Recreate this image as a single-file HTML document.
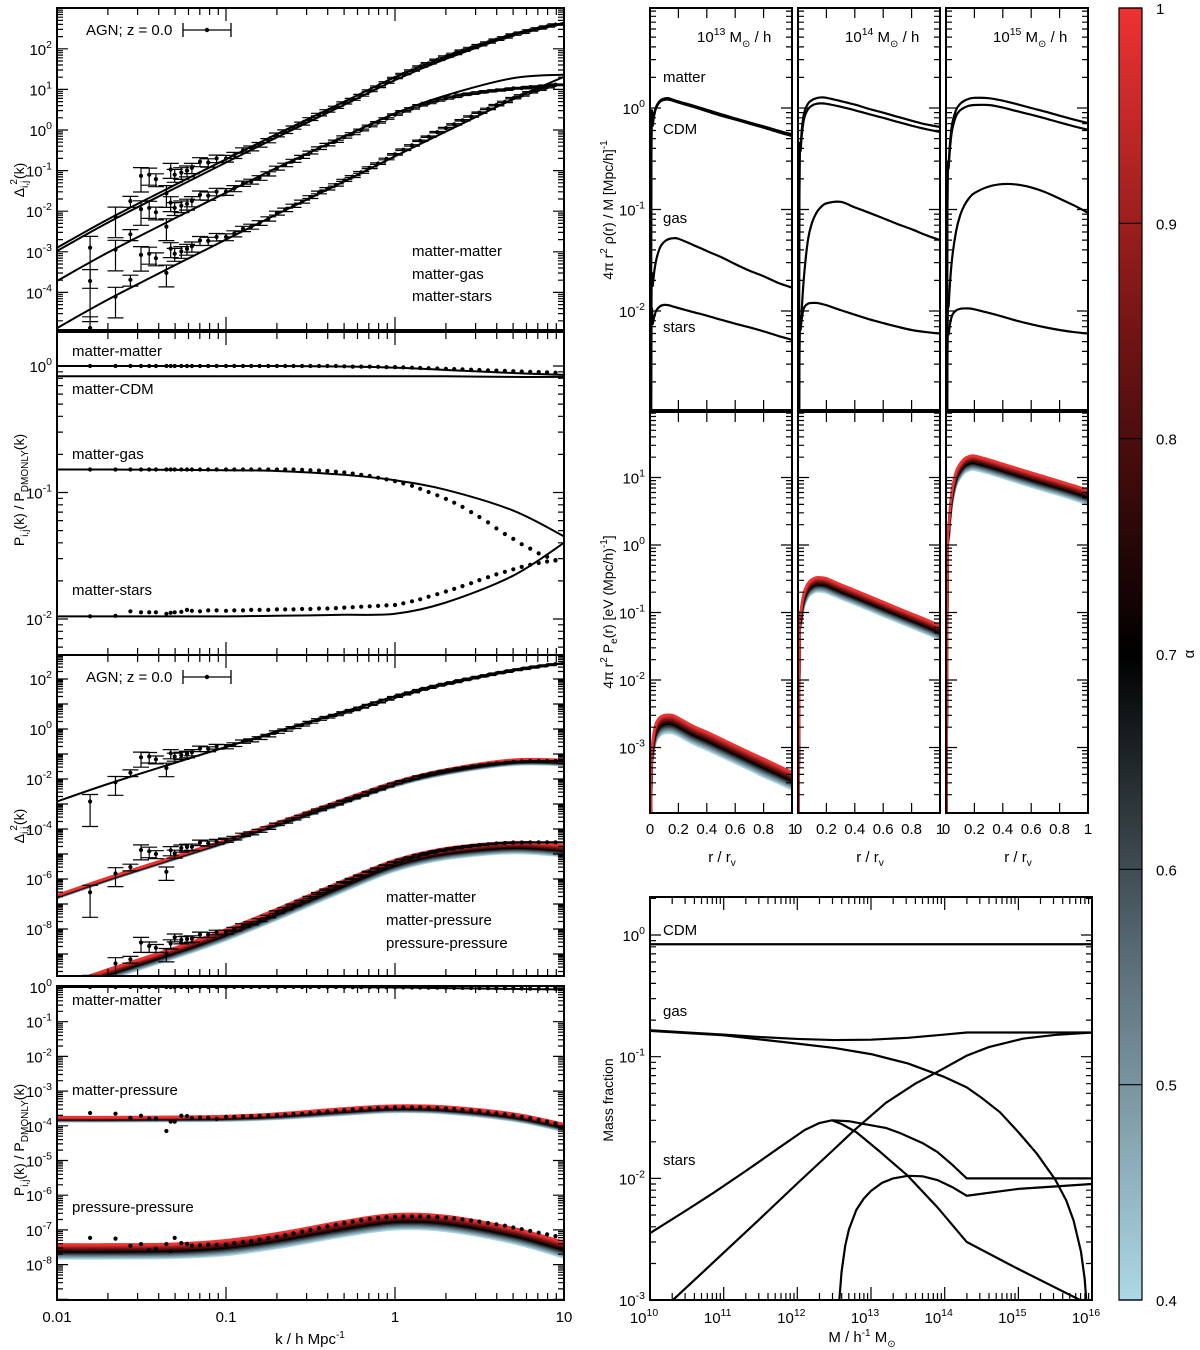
<!DOCTYPE html>
<html><head><meta charset="utf-8"><title>Halo model power spectra</title>
<style>html,body{margin:0;padding:0;background:#fff}svg{display:block}text{font-family:"Liberation Sans","DejaVu Sans",sans-serif;fill:#000}</style>
</head><body>
<svg id="chart" xmlns="http://www.w3.org/2000/svg" width="1200" height="1350" viewBox="0 0 1200 1350"><defs id="defs"></defs></svg>
<script>
// ---------- DATA ----------
const kGrid=[0.01,0.02,0.05,0.1,0.2,0.5,1,2,5,10];
const dmoLine=[-2.9,-2.2,-1.35,-0.72,-0.1,0.7,1.31,1.83,2.42,2.71]; // log10 Delta^2 DMONLY
const ratioMMLine=[1,1,1,1,1,0.99,0.97,0.93,0.88,0.85];
const ratioCDMLine=[0.83,0.83,0.83,0.83,0.83,0.83,0.83,0.83,0.82,0.82];
const ratioGasLine=[0.152,0.152,0.151,0.15,0.148,0.138,0.125,0.105,0.072,0.045];
const ratioStarsLine=[0.0105,0.0105,0.0105,0.0105,0.0106,0.0108,0.011,0.0135,0.022,0.04];
const ratioMPTop=[-3.75,-3.75,-3.74,-3.72,-3.65,-3.5,-3.42,-3.45,-3.65,-3.95];
const ratioMPBot=[-3.87,-3.87,-3.86,-3.85,-3.8,-3.68,-3.6,-3.64,-3.85,-4.15];
const ratioPPTop=[-7.42,-7.42,-7.4,-7.3,-7.1,-6.75,-6.55,-6.6,-6.95,-7.35];
const ratioPPBot=[-7.82,-7.82,-7.8,-7.72,-7.52,-7.18,-6.98,-7.03,-7.38,-7.8];
const alphas=[0.4,0.45,0.5,0.55,0.6,0.65,0.7,0.75,0.8,0.85,0.9,0.95,1.0];

const kPts=[0.0157,0.0222,0.0272,0.0314,0.0351,0.0385,0.0444,0.0471,0.0497,0.0544,0.0588,0.0628,0.0702,0.0785,0.088,0.1,0.112,0.126,0.141,0.158,0.178,0.2,0.224,0.251,0.282,0.316,0.355,0.398,0.447,0.501,0.562,0.631,0.708,0.794,0.891,1.0,1.12,1.26,1.41,1.58,1.78,2.0,2.24,2.51,2.82,3.16,3.55,3.98,4.47,5.01,5.62,6.31,7.08,7.94,8.91];
const dmoPts=[-2.9,-2.13,-1.75,-1.13,-1.1,-1.21,-1.56,-0.97,-1.1,-1.05,-1.0,-0.93,-0.78,-0.8,-0.7,-0.7,-0.62,-0.5,-0.45,-0.36,-0.26,-0.12,-0.04,0.06,0.16,0.27,0.38,0.47,0.56,0.67,0.76,0.86,0.97,1.07,1.18,1.29,1.39,1.48,1.58,1.66,1.75,1.83,1.9,1.98,2.05,2.12,2.19,2.26,2.32,2.39,2.44,2.5,2.55,2.6,2.65];
const ratioMMPts=[1,1,1,1,1,1,1,1,1,1,1,1,1,1,1,1,1,1,1,1,1,1,1,1,1,1,1,1,1,0.995,0.99,0.99,0.99,0.985,0.98,0.98,0.975,0.97,0.965,0.96,0.955,0.95,0.945,0.94,0.935,0.93,0.925,0.92,0.915,0.91,0.905,0.9,0.895,0.89,0.885];
const ratioGasPts=[0.152,0.152,0.152,0.152,0.152,0.152,0.152,0.152,0.152,0.152,0.152,0.152,0.152,0.152,0.152,0.152,0.152,0.152,0.152,0.152,0.152,0.152,0.152,0.152,0.151,0.150,0.149,0.148,0.146,0.144,0.141,0.138,0.135,0.131,0.127,0.123,0.118,0.113,0.107,0.101,0.095,0.089,0.083,0.077,0.07,0.064,0.058,0.052,0.047,0.043,0.039,0.036,0.033,0.031,0.029];
const ratioStarsPts=[0.0105,0.0106,0.0115,0.0113,0.0113,0.0113,0.0110,0.0112,0.0113,0.0114,0.0118,0.0116,0.0115,0.0117,0.0117,0.0116,0.0117,0.0117,0.0118,0.0118,0.0118,0.0119,0.0119,0.0119,0.012,0.012,0.0121,0.0121,0.0122,0.0123,0.0124,0.0125,0.0126,0.0127,0.0128,0.0129,0.0133,0.0138,0.0143,0.015,0.0157,0.0165,0.0173,0.0182,0.0192,0.0203,0.0214,0.0225,0.0236,0.0247,0.0258,0.0268,0.0277,0.0285,0.0292];
const ratioMPPts=[-3.63,-3.65,-3.77,-3.71,-3.79,-3.79,-4.15,-3.88,-3.88,-3.71,-3.72,-3.78,-3.76,-3.77,-3.8,-3.74,-3.74,-3.73,-3.72,-3.71,-3.70,-3.69,-3.68,-3.66,-3.65,-3.63,-3.61,-3.59,-3.57,-3.55,-3.53,-3.52,-3.5,-3.49,-3.48,-3.47,-3.47,-3.47,-3.47,-3.48,-3.49,-3.5,-3.52,-3.54,-3.56,-3.58,-3.61,-3.64,-3.67,-3.7,-3.74,-3.78,-3.83,-3.88,-3.93];
const ratioPPPts=[-7.23,-7.25,-7.46,-7.41,-7.58,-7.54,-7.41,-7.61,-7.23,-7.38,-7.4,-7.45,-7.44,-7.42,-7.43,-7.42,-7.38,-7.35,-7.32,-7.28,-7.24,-7.2,-7.15,-7.1,-7.05,-7.0,-6.95,-6.9,-6.85,-6.8,-6.76,-6.72,-6.68,-6.65,-6.63,-6.62,-6.61,-6.61,-6.61,-6.62,-6.63,-6.65,-6.67,-6.7,-6.73,-6.76,-6.8,-6.84,-6.88,-6.93,-6.98,-7.03,-7.08,-7.13,-7.18];
const errFrac=[0.9,0.7,0.3,0.6,0.45,0.35,0.55,0.4,0.35,0.32,0.3,0.28,0.25,0.23,0.21,0.19,0.17,0.15,0.14,0.13,0.12,0.11,0.1,0.09,0.085,0.08,0.075,0.07,0.065,0.06,0.055,0.05,0.05,0.045,0.045,0.04,0.04,0.04,0.04,0.04,0.04,0.04,0.04,0.04,0.04,0.04,0.04,0.04,0.04,0.04,0.04,0.04,0.04,0.04,0.04];

const rGrid=[0.001,0.01,0.02,0.04,0.07,0.1,0.13,0.16,0.2,0.3,0.4,0.5,0.6,0.7,0.8,0.9,1.0];
const massLabels=['13','14','15'];
const rhoMatter=[[1e-5,0.35,0.7,1.0,1.18,1.24,1.25,1.21,1.16,1.06,0.96,0.87,0.79,0.72,0.66,0.6,0.55],[1e-5,0.15,0.45,0.85,1.1,1.2,1.25,1.27,1.26,1.17,1.08,0.98,0.9,0.82,0.75,0.69,0.65],[1e-5,0.1,0.3,0.65,0.95,1.1,1.18,1.23,1.26,1.25,1.18,1.09,1.0,0.92,0.84,0.77,0.71]];
const rhoCDM=[[1e-5,0.34,0.68,0.97,1.15,1.2,1.21,1.18,1.13,1.03,0.93,0.84,0.77,0.7,0.64,0.58,0.53],[1e-5,0.13,0.4,0.75,0.97,1.06,1.1,1.11,1.1,1.03,0.95,0.87,0.8,0.73,0.67,0.62,0.58],[1e-5,0.09,0.27,0.57,0.83,0.95,1.01,1.05,1.07,1.07,1.01,0.93,0.86,0.79,0.72,0.66,0.61]];
const rhoGas=[[1e-6,0.01,0.018,0.03,0.042,0.048,0.051,0.052,0.0515,0.045,0.039,0.034,0.029,0.025,0.022,0.019,0.017],[1e-6,0.003,0.007,0.02,0.05,0.075,0.093,0.105,0.115,0.119,0.105,0.093,0.082,0.072,0.064,0.056,0.05],[1e-6,0.004,0.012,0.03,0.06,0.088,0.11,0.128,0.145,0.168,0.178,0.176,0.165,0.148,0.128,0.11,0.093]];
const rhoStars=[[1e-6,0.005,0.0075,0.0098,0.0111,0.0115,0.0114,0.0111,0.0107,0.0098,0.009,0.0082,0.0075,0.0069,0.0063,0.0057,0.0052],[1e-6,0.004,0.007,0.0105,0.0118,0.012,0.012,0.0118,0.0114,0.0102,0.0092,0.0083,0.0076,0.007,0.0065,0.0062,0.006],[1e-6,0.003,0.006,0.0088,0.0101,0.0105,0.0106,0.0106,0.0104,0.0096,0.0088,0.008,0.0074,0.0069,0.0065,0.0062,0.006]];
const peTop=[[1e-5,6e-4,1.3e-3,2.2e-3,2.8e-3,3.0e-3,3.05e-3,3.0e-3,2.75e-3,2.1e-3,1.7e-3,1.35e-3,1.07e-3,8.5e-4,6.8e-4,5.4e-4,4.3e-4],[1e-5,0.04,0.1,0.19,0.27,0.31,0.33,0.33,0.32,0.26,0.214,0.175,0.143,0.117,0.096,0.079,0.064],[1e-5,0.5,2,6,12,16,19,20.5,21,18.5,15.9,13.7,11.8,10.2,8.8,7.6,6.5]];
const peBot=[[5e-6,3.3e-4,7e-4,1.2e-3,1.5e-3,1.63e-3,1.66e-3,1.63e-3,1.5e-3,1.15e-3,9.3e-4,7.4e-4,5.9e-4,4.7e-4,3.7e-4,3e-4,2.4e-4],[5e-6,0.025,0.062,0.118,0.167,0.192,0.205,0.205,0.198,0.161,0.133,0.109,0.089,0.073,0.06,0.049,0.04],[5e-6,0.31,1.24,3.7,7.4,9.9,11.8,12.7,13,11.5,9.9,8.5,7.3,6.3,5.5,4.7,4.0]];

const mCDM=[10,16]; const fCDM=[0.84,0.84];
const mGasA=[10,10.5,11,11.5,12,12.5,13,13.5,14,14.3,14.5,15,15.5,16];
const fGasA=[0.165,0.158,0.152,0.145,0.14,0.137,0.138,0.143,0.152,0.158,0.158,0.158,0.158,0.158];
const mGasB=[10,11,12,12.5,13,13.5,14,14.3,14.5,14.75,15,15.25,15.5,15.65,15.75,15.85,15.9,15.95];
const fGasB=[0.163,0.15,0.128,0.118,0.105,0.088,0.068,0.056,0.046,0.035,0.024,0.016,0.0098,0.0066,0.0045,0.0025,0.0015,0.0006];
const mGasC=[10.31,11,11.5,12,12.5,12.76,13.2,13.6,13.9,14.3,14.6,15.07,15.5,16];
const fGasC=[0.001,0.00245,0.0047,0.0091,0.0174,0.0245,0.0417,0.06,0.075,0.102,0.12,0.141,0.151,0.158];
const mStar1=[10,10.5,10.86,11.3,11.76,12.1,12.3,12.47,12.7,12.9,13.2,13.4,13.7,13.9,14.1,14.3,15,16];
const fStar1=[0.00355,0.0055,0.0076,0.0115,0.018,0.025,0.0285,0.030,0.0295,0.028,0.026,0.0235,0.0195,0.0165,0.013,0.01,0.01,0.01];
const mStar2=[12.47,12.6,12.8,13.1,13.5,13.9,14.3,15,15.84];
const fStar2=[0.03,0.028,0.024,0.017,0.0105,0.0058,0.003,0.0018,0.001];
const mStar3=[12.57,12.6,12.65,12.7,12.8,12.9,13.0,13.15,13.3,13.5,13.7,13.9,14.1,14.3,15,16];
const fStar3=[0.001,0.0017,0.0028,0.0038,0.0055,0.0068,0.0079,0.0092,0.0100,0.0105,0.0104,0.0097,0.0085,0.0072,0.0082,0.009];
const cbTicks=[0.4,0.5,0.6,0.7,0.8,0.9,1];

// ---------- HELPERS ----------
const NS='http://www.w3.org/2000/svg';
const svg=document.getElementById('chart');
const defs=document.getElementById('defs');
function mk(tag,attrs,parent){const e=document.createElementNS(NS,tag);for(const k in attrs)e.setAttribute(k,attrs[k]);(parent||svg).appendChild(e);return e;}
const L10=Math.log10;
function smooth(p){if(p.length<2)return'';let d='M'+p[0][0].toFixed(2)+','+p[0][1].toFixed(2);for(let i=0;i<p.length-1;i++){const p0=p[Math.max(i-1,0)],p1=p[i],p2=p[i+1],p3=p[Math.min(i+2,p.length-1)];const c1x=p1[0]+(p2[0]-p0[0])/6,c1y=p1[1]+(p2[1]-p0[1])/6,c2x=p2[0]-(p3[0]-p1[0])/6,c2y=p2[1]-(p3[1]-p1[1])/6;d+=' C'+c1x.toFixed(2)+','+c1y.toFixed(2)+' '+c2x.toFixed(2)+','+c2y.toFixed(2)+' '+p2[0].toFixed(2)+','+p2[1].toFixed(2);}return d;}
function poly(p){return 'M'+p.map(q=>q[0].toFixed(2)+','+q[1].toFixed(2)).join(' L');}
let clipN=0;
function clip(x0,y0,x1,y1){const id='c'+(clipN++);const c=mk('clipPath',{id:id},defs);mk('rect',{x:x0,y:y0,width:x1-x0,height:y1-y0},c);return 'url(#'+id+')';}
function curve(pts,cl,stroke,sw,name,linear){const p=mk('path',{d:linear?poly(pts):smooth(pts),fill:'none',stroke:stroke,'stroke-width':sw,'clip-path':cl,'stroke-linejoin':'round'});


return p;}
function frame(x0,y0,x1,y1,name){const r=mk('rect',{x:x0,y:y0,width:x1-x0,height:y1-y0,fill:'none',stroke:'#000','stroke-width':2});

}
function tickPath(d,name){const p=mk('path',{d:d,fill:'none',stroke:'#000','stroke-width':1.2});

}
function yLogTicks(x0,x1,ym,lo,hi,name){let d='';for(let dec=Math.floor(lo);dec<=Math.ceil(hi);dec++)for(let m=1;m<=9;m++){const l=dec+L10(m);if(l<lo||l>hi)continue;const y=ym(l).toFixed(1);const len=m==1?11:6;d+='M'+x0+','+y+'h'+len+'M'+x1+','+y+'h'+(-len);}tickPath(d,name);}
function xLogTicks(y0,y1,xm,lo,hi,name){let d='';for(let dec=Math.floor(lo);dec<=Math.ceil(hi);dec++)for(let m=1;m<=9;m++){const l=dec+L10(m);if(l<lo-1e-9||l>hi+1e-9)continue;const x=xm(l).toFixed(1);const len=m==1?13:7;d+='M'+x+','+y0+'v'+len+'M'+x+','+y1+'v'+(-len);}tickPath(d,name);}
function powLabel(x,y,base,exp,anchor,name,size){const t=mk('text',{x:x,y:y,'text-anchor':anchor||'end','font-size':size||15});t.textContent=base;const s=mk('tspan',{dy:-7,'font-size':(size||15)*0.7},t);s.textContent=exp;

return t;}
function label(x,y,str,name,anchor,size){const t=mk('text',{x:x,y:y,'text-anchor':anchor||'start','font-size':size||15});t.textContent=str;

return t;}
const cstops=[[0.4,[173,216,230]],[0.55,[95,115,125]],[0.7,[0,0,0]],[0.85,[115,20,20]],[1.0,[238,50,50]]];
function acol(a){for(let i=0;i<cstops.length-1;i++){const[a0,c0]=cstops[i],[a1,c1]=cstops[i+1];if(a<=a1+1e-9){const t=(a-a0)/(a1-a0);return 'rgb('+c0.map((v,j)=>Math.round(v+(c1[j]-v)*t)).join(',')+')';}}return 'rgb(238,50,50)';}

// ---------- LEFT COLUMN ----------
const lx=k=>57+169*L10(k/0.01);
const lxL=l=>57+169*(l+2);
const P1={y0:8,y1:330,ym:l=>130-40.6*l,s:40.6}; const P2={y0:332,y1:655,ym:l=>366-126.5*l,s:126.5};
const P3={y0:655,y1:976,ym:l=>729-25*l,s:25}; const P4={y0:986,y1:1300,ym:l=>987-34.7*l,s:34.7};
const XL0=57,XL1=564;
function lnTop(p){return (p.ym(0)-p.y0)/p.s;}
function lnBot(p){return -(p.y1-p.ym(0))/p.s;}
function modelPts(ls,ym){const out=[];for(let i=0;i<kGrid.length;i++)out.push([lx(kGrid[i]),ym(ls[i])]);return out;}
function dmoPlus(r){return dmoLine.map((v,i)=>v+L10(r[i]));}
function dmoPlusLog(r){return dmoLine.map((v,i)=>v+r[i]);}
function dots(ls,ym,cl,name,withErr){const g=mk('g',{'clip-path':cl});


let d='';for(let i=0;i<kPts.length;i++){const x=lx(kPts[i]);const l=ls[i];const y=ym(l);
 if(withErr){const e=errFrac[i];const yu=ym(l+L10(1+e)),yl=ym(l+L10(Math.max(1-e,0.02)));d+='M'+x.toFixed(1)+','+yu.toFixed(1)+'V'+yl.toFixed(1)+'M'+(x-8).toFixed(1)+','+yu.toFixed(1)+'h16M'+(x-8).toFixed(1)+','+yl.toFixed(1)+'h16';}
 const c=mk('circle',{cx:x.toFixed(1),cy:y.toFixed(1),r:2.1,fill:'#000'},g);
 
 }
if(withErr){const p=mk('path',{d:d,stroke:'#000','stroke-width':1.2,fill:'none'},g);

}}
function band(topL,botL,ym,cl,name){for(const a of alphas){const t=(a-0.4)/0.6;const ls=topL.map((v,i)=>botL[i]+(v-botL[i])*t);curve(modelPts(ls,ym),cl,acol(a),2.6,name+'-alpha-'+a.toFixed(2));}}

// Panel 1
{const p=P1,cl=clip(XL0,p.y0,XL1,p.y1);
curve(modelPts(dmoPlus(ratioCDMLine),p.ym),cl,'#000',2,'p1-matter-cdm-line');
curve(modelPts(dmoPlus(ratioMMLine),p.ym),cl,'#000',2,'p1-matter-matter-line');
curve(modelPts(dmoPlus(ratioGasLine),p.ym),cl,'#000',2,'p1-matter-gas-line');
curve(modelPts(dmoPlus(ratioStarsLine),p.ym),cl,'#000',2,'p1-matter-stars-line');
dots(dmoPts.map((v,i)=>v+L10(ratioMMPts[i])),p.ym,cl,'p1-matter-matter-points',true);
dots(dmoPts.map((v,i)=>v+L10(ratioGasPts[i])),p.ym,cl,'p1-matter-gas-points',true);
dots(dmoPts.map((v,i)=>v+L10(ratioStarsPts[i])),p.ym,cl,'p1-matter-stars-points',true);
yLogTicks(XL0,XL1,p.ym,lnBot(p),lnTop(p),'p1-y-ticks');xLogTicks(p.y0,p.y1,lxL,-2,1,'p1-x-ticks');frame(XL0,p.y0,XL1,p.y1,'p1-frame');
for(let e=-4;e<=2;e++)powLabel(52,p.ym(e)+6,'10',String(e),'end','p1-y-tick-label');
label(412,256,'matter-matter','p1-legend-matter-matter');label(412,279,'matter-gas','p1-legend-matter-gas');label(412,301,'matter-stars','p1-legend-matter-stars');}
// Panel 2
{const p=P2,cl=clip(XL0,p.y0,XL1,p.y1);const ym=p.ym;
const lr=a=>a.map(v=>L10(v));
curve(modelPts(lr(ratioMMLine),ym),cl,'#000',2,'p2-matter-matter-line');
curve(modelPts(lr(ratioCDMLine),ym),cl,'#000',2,'p2-matter-cdm-line');
curve(modelPts(lr(ratioGasLine),ym),cl,'#000',2,'p2-matter-gas-line');
curve(modelPts(lr(ratioStarsLine),ym),cl,'#000',2,'p2-matter-stars-line');
dots(lr(ratioMMPts),ym,cl,'p2-matter-matter-points',false);dots(lr(ratioGasPts),ym,cl,'p2-matter-gas-points',false);dots(lr(ratioStarsPts),ym,cl,'p2-matter-stars-points',false);
yLogTicks(XL0,XL1,ym,lnBot(p),lnTop(p),'p2-y-ticks');xLogTicks(p.y0,p.y1,lxL,-2,1,'p2-x-ticks');frame(XL0,p.y0,XL1,p.y1,'p2-frame');
for(let e=-2;e<=0;e++)powLabel(52,ym(e)+6,'10',String(e),'end','p2-y-tick-label');
label(72,356,'matter-matter','p2-label-matter-matter');label(72,394,'matter-CDM','p2-label-matter-cdm');label(72,459,'matter-gas','p2-label-matter-gas');label(72,595,'matter-stars','p2-label-matter-stars');}
// Panel 3
{const p=P3,cl=clip(XL0,p.y0,XL1,p.y1);const ym=p.ym;
band(dmoPlusLog(ratioPPTop),dmoPlusLog(ratioPPBot),ym,cl,'p3-pressure-pressure');
band(dmoPlusLog(ratioMPTop),dmoPlusLog(ratioMPBot),ym,cl,'p3-matter-pressure');
curve(modelPts(dmoPlus(ratioMMLine),ym),cl,'#000',2,'p3-matter-matter-line');
dots(dmoPts.map((v,i)=>v+L10(ratioMMPts[i])),ym,cl,'p3-matter-matter-points',true);
dots(dmoPts.map((v,i)=>v+ratioMPPts[i]),ym,cl,'p3-matter-pressure-points',true);
dots(dmoPts.map((v,i)=>v+ratioPPPts[i]),ym,cl,'p3-pressure-pressure-points',true);
yLogTicks(XL0,XL1,ym,lnBot(p),lnTop(p),'p3-y-ticks');xLogTicks(p.y0,p.y1,lxL,-2,1,'p3-x-ticks');frame(XL0,p.y0,XL1,p.y1,'p3-frame');
for(let e=-8;e<=2;e+=2)powLabel(52,ym(e)+6,'10',String(e),'end','p3-y-tick-label');
label(386,902,'matter-matter','p3-legend-matter-matter');label(386,925,'matter-pressure','p3-legend-matter-pressure');label(386,948,'pressure-pressure','p3-legend-pressure-pressure');}
// Panel 4
{const p=P4,cl=clip(XL0,p.y0,XL1,p.y1);const ym=p.ym;
band(ratioPPTop,ratioPPBot,ym,cl,'p4-pressure-pressure');
band(ratioMPTop,ratioMPBot,ym,cl,'p4-matter-pressure');
curve(modelPts(ratioMMLine.map(v=>L10(v)),ym),cl,'#000',2,'p4-matter-matter-line');
dots(ratioMMPts.map(v=>L10(v)),ym,cl,'p4-matter-matter-points',false);
dots(ratioMPPts,ym,cl,'p4-matter-pressure-points',false);
dots(ratioPPPts,ym,cl,'p4-pressure-pressure-points',false);
yLogTicks(XL0,XL1,ym,lnBot(p),lnTop(p),'p4-y-ticks');xLogTicks(p.y0,p.y1,lxL,-2,1,'p4-x-ticks');frame(XL0,p.y0,XL1,p.y1,'p4-frame');
for(let e=-8;e<=0;e++)powLabel(52,ym(e)+6,'10',String(e),'end','p4-y-tick-label');
label(72,1005,'matter-matter','p4-label-matter-matter');label(72,1095,'matter-pressure','p4-label-matter-pressure');label(72,1212,'pressure-pressure','p4-label-pressure-pressure');}
// AGN legends
for(const yy of [30,677]){label(86,yy+5,'AGN; z = 0.0','agn-legend-text');
const p=mk('path',{d:'M183,'+yy+'h48M183,'+(yy-7)+'v14M231,'+(yy-7)+'v14',stroke:'#000','stroke-width':1.3,fill:'none'});


const c=mk('circle',{cx:207,cy:yy,r:2.2,fill:'#000'});

}
[['0.01',0.01],['0.1',0.1],['1',1],['10',10]].forEach(([s,k])=>label(lx(k),1322,s,'k-axis-tick-label','middle'));
{const t=label(310,1344,'k / h Mpc','k-axis-title','middle');const s=mk('tspan',{dy:-6,'font-size':10},t);s.textContent='-1';}
function deltaTitle(cy,name){const t=mk('text',{transform:'translate(24,'+cy+') rotate(-90)','text-anchor':'middle','font-size':14});t.textContent='Δ';const a=mk('tspan',{dy:4,'font-size':10},t);a.textContent='i,j';const b=mk('tspan',{dy:-11,dx:-4,'font-size':10},t);b.textContent='2';const c=mk('tspan',{dy:7,'font-size':14},t);c.textContent='(k)';

}
deltaTitle(180,'p1-y-axis-title');deltaTitle(826,'p3-y-axis-title');
function ratioTitle(cy,name){const t=mk('text',{transform:'translate(24,'+cy+') rotate(-90)','text-anchor':'middle','font-size':14});t.textContent='P';const a=mk('tspan',{dy:4,'font-size':10},t);a.textContent='i,j';const b=mk('tspan',{dy:-4},t);b.textContent='(k) / P';const c=mk('tspan',{dy:4,'font-size':10},t);c.textContent='DMONLY';const d=mk('tspan',{dy:-4},t);d.textContent='(k)';

}
ratioTitle(490,'p2-y-axis-title');ratioTitle(1140,'p4-y-axis-title');

// ---------- RIGHT TOP ----------
const SX=[650,798,946],SW=142;
const rhoY=l=>108-101.5*l, peY=l=>545-67.5*l;
const rhoLo=-(410-108)/101.5, rhoHi=(108-8)/101.5, peLo=-(813-545)/67.5, peHi=(545-412)/67.5;
for(let s=0;s<3;s++){const x0=SX[s],x1=x0+SW;const rx=r=>x0+SW*r;
 const pts=(arr,ym)=>rGrid.map((r,i)=>[rx(r),ym(L10(arr[i]))]);
 const c1=clip(x0,8,x1,410);
 curve(pts(rhoMatter[s],rhoY),c1,'#000',2.2,'rho-matter-'+massLabels[s]);
 curve(pts(rhoCDM[s],rhoY),c1,'#000',2.2,'rho-cdm-'+massLabels[s]);
 curve(pts(rhoGas[s],rhoY),c1,'#000',2.2,'rho-gas-'+massLabels[s]);
 curve(pts(rhoStars[s],rhoY),c1,'#000',2.2,'rho-stars-'+massLabels[s]);
 yLogTicks(x0,x1,rhoY,rhoLo,rhoHi,'rho-y-ticks-'+massLabels[s]);
 let d='';for(let r=0.2;r<0.99;r+=0.2){const x=rx(r).toFixed(1);d+='M'+x+',8v10M'+x+',410v-10M'+x+',412v10M'+x+',813v-10';}tickPath(d,'r-ticks-'+massLabels[s]);
 frame(x0,8,x1,410,'rho-frame-'+massLabels[s]);
 const c2=clip(x0,412,x1,813);
 for(const a of alphas){const t=(a-0.4)/0.6;const ls=peTop[s].map((v,i)=>L10(peBot[s][i])+(L10(v)-L10(peBot[s][i]))*t);curve(rGrid.map((r,i)=>[rx(r),peY(ls[i])]),c2,acol(a),2.6,'pressure-'+massLabels[s]+'-alpha-'+a.toFixed(2));}
 yLogTicks(x0,x1,peY,peLo,peHi,'pressure-y-ticks-'+massLabels[s]);
 frame(x0,412,x1,813,'pressure-frame-'+massLabels[s]);
 ['0','0.2','0.4','0.6','0.8'].forEach((str,i)=>label(rx(i*0.2),834,str,'r-tick-label','middle'));
 label(x1,834,'1','r-tick-label','middle');
 {const t=label(x0+72,862,'r / r','r-axis-title','middle');const sb=mk('tspan',{dy:4,'font-size':10},t);sb.textContent='v';}
 {const t=powLabel(x0+47,42,'10',massLabels[s],'start','mass-heading',15);const a=mk('tspan',{dy:7,'font-size':15},t);a.textContent=' M';const b=mk('tspan',{dy:5,'font-size':10},t);b.textContent='⊙';const c=mk('tspan',{dy:-5,'font-size':15},t);c.textContent=' / h';}
}
for(let e=-2;e<=0;e++)powLabel(645,rhoY(e)+6,'10',String(e),'end','rho-y-tick-label');
for(let e=-3;e<=1;e++)powLabel(645,peY(e)+6,'10',String(e),'end','pressure-y-tick-label');
label(663,82,'matter','rho-label-matter');label(663,134,'CDM','rho-label-cdm');label(663,223,'gas','rho-label-gas');label(663,332,'stars','rho-label-stars');
{const t=mk('text',{transform:'translate(613,210) rotate(-90)','text-anchor':'middle','font-size':14});t.textContent='4π r';const a=mk('tspan',{dy:-6,'font-size':10},t);a.textContent='2';const b=mk('tspan',{dy:6},t);b.textContent=' ρ(r) / M [Mpc/h]';const c=mk('tspan',{dy:-6,'font-size':10},t);c.textContent='-1';

}
{const t=mk('text',{transform:'translate(613,612) rotate(-90)','text-anchor':'middle','font-size':14});t.textContent='4π r';const a=mk('tspan',{dy:-6,'font-size':10},t);a.textContent='2';const b=mk('tspan',{dy:6},t);b.textContent=' P';const b2=mk('tspan',{dy:4,'font-size':10},t);b2.textContent='e';const b3=mk('tspan',{dy:-4},t);b3.textContent='(r) [eV (Mpc/h)';const c=mk('tspan',{dy:-6,'font-size':10},t);c.textContent='-1';const d=mk('tspan',{dy:6},t);d.textContent=']';

}

// ---------- MASS FRACTION ----------
{const mx=lm=>650+73.67*(lm-10), my=l=>935-121.7*l;const cl=clip(650,897,1092,1300);
const pts=(ms,fs)=>ms.map((m,i)=>[mx(m),my(L10(fs[i]))]);
curve(pts(mCDM,fCDM),cl,'#000',2.2,'mass-fraction-cdm',true);
curve(pts(mGasA,fGasA),cl,'#000',2.2,'mass-fraction-gas-a',true);
curve(pts(mGasB,fGasB),cl,'#000',2.2,'mass-fraction-gas-b',true);
curve(pts(mGasC,fGasC),cl,'#000',2.2,'mass-fraction-gas-c',true);
curve(pts(mStar1,fStar1),cl,'#000',2.2,'mass-fraction-stars-a',true);
curve(pts(mStar2,fStar2),cl,'#000',2.2,'mass-fraction-stars-b',true);
curve(pts(mStar3,fStar3),cl,'#000',2.2,'mass-fraction-stars-c',true);
yLogTicks(650,1092,my,-3,(935-897)/121.7,'mass-y-ticks');xLogTicks(897,1300,mx,10,16,'mass-x-ticks');frame(650,897,1092,1300,'mass-frame');
for(let e=-3;e<=0;e++)powLabel(645,my(e)+6,'10',String(e),'end','mass-y-tick-label');
for(let e=10;e<=16;e++)powLabel(mx(e)-6,1323,'10',String(e),'middle','mass-x-tick-label');
label(663,935,'CDM','mass-label-cdm');label(663,1016,'gas','mass-label-gas');label(663,1165,'stars','mass-label-stars');
{const t=label(862,1342,'M / h','mass-x-axis-title','middle');const a=mk('tspan',{dy:-6,'font-size':10},t);a.textContent='-1';const b=mk('tspan',{dy:6},t);b.textContent=' M';const c=mk('tspan',{dy:5,'font-size':10},t);c.textContent='⊙';}
{const t=mk('text',{transform:'translate(613,1100) rotate(-90)','text-anchor':'middle','font-size':14});t.textContent='Mass fraction';

}}

// ---------- COLORBAR ----------
{const g=mk('linearGradient',{id:'cbg',x1:0,y1:1,x2:0,y2:0},defs);
for(const [a,c] of cstops){mk('stop',{offset:((a-0.4)/0.6).toFixed(3),'stop-color':'rgb('+c.join(',')+')'},g);}
const cy=a=>1300-(a-0.4)/0.6*1292;
const r=mk('rect',{x:1119,y:8,width:23,height:1292,fill:'url(#cbg)',stroke:'#000','stroke-width':1.2});


let d='';for(const a of cbTicks){d+='M1119,'+cy(a).toFixed(1)+'h23';label(1156,cy(a)+6,String(a),'colorbar-tick-label','start');}
tickPath(d,'colorbar-ticks');
const t=mk('text',{transform:'translate(1194,654) rotate(-90)','text-anchor':'middle','font-size':15});t.textContent='α';

}
</script>
</body></html>
